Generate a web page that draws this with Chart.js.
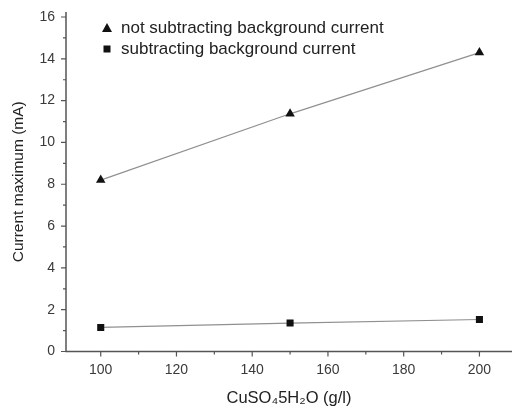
<!DOCTYPE html>
<html>
<head>
<meta charset="utf-8">
<script src="https://cdn.jsdelivr.net/npm/chart.js@4/dist/chart.umd.min.js"></script>
<style>
  html, body { margin: 0; padding: 0; background: #fff; }
  #wrap { width: 512px; height: 408px; }
</style>
</head>
<body>
<div id="wrap"><canvas id="myChart" width="512" height="408"></canvas></div>
<script>
var concentration = [100, 150, 200];
var notSubtracting = [8.2, 11.37, 14.3];
var subtracting = [1.15, 1.36, 1.53];
var seriesNames = ["not subtracting background current", "subtracting background current"];

var xMajor = [100, 120, 140, 160, 180, 200];
var yMajor = [0, 2, 4, 6, 8, 10, 12, 14, 16];

var font = "Liberation Sans, Arial, sans-serif";
var axisColor = "#555";

function toPoints(ys){
  var pts = [];
  for (var i = 0; i < concentration.length; i++) {
    pts.push({x: concentration[i], y: ys[i]});
  }
  return pts;
}

// axes with major/minor ticks, pointing outward
var axesPlugin = {
  id: "axesPlugin",
  afterDraw: function(chart){
    var ctx = chart.ctx;
    var xs = chart.scales.x, ys = chart.scales.y;
    var a = chart.chartArea;
    ctx.save();
    ctx.strokeStyle = axisColor;
    ctx.lineWidth = 1.5;
    ctx.beginPath();
    ctx.moveTo(a.left, a.top);
    ctx.lineTo(a.left, a.bottom);
    ctx.lineTo(chart.width, a.bottom);
    ctx.stroke();

    ctx.lineWidth = 1.2;
    ctx.beginPath();
    for (var v = 90; v <= 210; v += 10) {
      var px = xs.getPixelForValue(v);
      if (px < a.left + 1 || px > chart.width) continue;
      var len = (v % 20 === 0) ? 5 : 3;
      ctx.moveTo(px, a.bottom);
      ctx.lineTo(px, a.bottom + len);
    }
    for (var w = 0; w <= 16; w += 1) {
      var py = ys.getPixelForValue(w);
      var l2 = (w % 2 === 0) ? 5 : 3;
      ctx.moveTo(a.left, py);
      ctx.lineTo(a.left - l2, py);
    }
    ctx.stroke();

    // legend
    ctx.fillStyle = "#111";
    var lx = 107, ly = [28, 49];
    ctx.beginPath();
    ctx.moveTo(lx, ly[0] - 5);
    ctx.lineTo(lx + 5, ly[0] + 4);
    ctx.lineTo(lx - 5, ly[0] + 4);
    ctx.closePath();
    ctx.fill();
    ctx.fillRect(lx - 3.5, ly[1] - 3.5, 7, 7);
    ctx.font = "17px " + font;
    ctx.fillStyle = "#222";
    ctx.textBaseline = "middle";
    ctx.fillText(seriesNames[0], 121, ly[0]);
    ctx.fillText(seriesNames[1], 121, ly[1]);
    ctx.restore();
  }
};

var chart = new Chart("myChart", {
  type: "scatter",
  data: {
    datasets: [{
      label: seriesNames[0],
      data: toPoints(notSubtracting),
      showLine: true,
      borderColor: "#909090",
      borderWidth: 1.2,
      pointStyle: "triangle",
      pointRadius: 5.5,
      backgroundColor: "#111",
      pointBorderColor: "#111",
      pointBorderWidth: 0
    }, {
      label: seriesNames[1],
      data: toPoints(subtracting),
      showLine: true,
      borderColor: "#909090",
      borderWidth: 1.2,
      pointStyle: "rect",
      pointRadius: 5,
      backgroundColor: "#111",
      pointBorderColor: "#111",
      pointBorderWidth: 0
    }]
  },
  options: {
    responsive: false,
    animation: false,
    layout: { autoPadding: false, padding: { top: 12, right: 0, left: 0, bottom: 0 } },
    plugins: { legend: { display: false }, tooltip: { enabled: false } },
    scales: {
      x: {
        type: "linear",
        min: 90.83,
        max: 208.6,
        afterFit: function(s){ s.height = 56.5; s.paddingLeft = 0; s.paddingRight = 0; },
        afterBuildTicks: function(s){ s.ticks = xMajor.map(function(v){ return {value: v}; }); },
        grid: { display: false, drawTicks: false },
        border: { display: false },
        ticks: { color: "#3a3a3a", padding: 10, font: { family: font, size: 14 } },
        title: {
          display: true,
          text: "CuSO\u20845H\u2082O (g/l)",
          color: "#222",
          font: { family: font, size: 16.5 },
          padding: { top: 8, bottom: 0 }
        }
      },
      y: {
        type: "linear",
        min: 0,
        max: 16.24,
        afterFit: function(s){ s.width = 66; s.paddingTop = 0; s.paddingBottom = 0; },
        afterBuildTicks: function(s){ s.ticks = yMajor.map(function(v){ return {value: v}; }); },
        grid: { display: false, drawTicks: false },
        border: { display: false },
        ticks: { color: "#3a3a3a", padding: 11, font: { family: font, size: 14 } },
        title: {
          display: true,
          text: "Current maximum (mA)",
          color: "#222",
          font: { family: font, size: 15.5 },
          padding: { top: 9, bottom: 0 }
        }
      }
    }
  },
  plugins: [axesPlugin]
});
</script>
</body>
</html>
